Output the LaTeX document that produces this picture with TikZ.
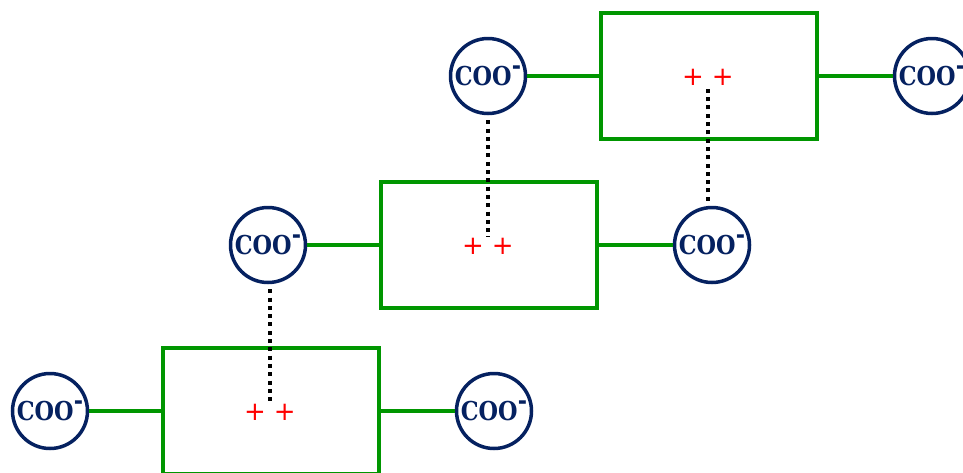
\documentclass[tikz,border=0pt]{standalone}
\usepackage{graphicx}
\usepackage{fontspec}
\setmainfont{Liberation Serif}
\newfontfamily\coofont{DejaVu Serif}
\newfontfamily\plusfont{DejaVu Sans}
\definecolor{boxgreen}{RGB}{0,150,0}
\definecolor{ionblue}{RGB}{5,33,96}
\begin{document}
\begin{tikzpicture}[x=1pt,y=-1pt,
 box/.style={draw=boxgreen, line width=4pt, minimum width=216pt, minimum height=126pt, inner sep=0},
 ion/.style={circle, draw=ionblue, line width=3.5pt, minimum size=75pt, inner sep=0, text=ionblue, font=\coofont\bfseries\fontsize{26}{26}\selectfont},
 bond/.style={draw=boxgreen, line width=4pt},
 ionic/.style={draw=black, line width=4pt, dash pattern=on 4pt off 4.3pt},
 charge/.style={text=red, font=\plusfont\fontsize{26}{26}\selectfont, inner sep=1pt}]
\useasboundingbox (0,0) rectangle (963,472);
% boxes
\node[box] (tb) at (709,76) {};
\node[box] (mb) at (489,245) {};
\node[box] (bb) at (271,411) {};
% charges
\newcommand{\pp}{+\hspace{8pt}+}
\node[charge] (tp) at (708,77) {\pp};
\node[charge] (mp) at (488,246) {\pp};
\node[charge] (bp) at (270,412) {\pp};
% ions
\newcommand{\coo}{\scalebox{0.86}[1]{COO\hspace{0.5pt}\raisebox{11.5pt}{-}}}
\node[ion] (t1) at (488,76) {\coo};
\node[ion] (t2) at (932,76) {\coo};
\node[ion] (m1) at (268,245) {\coo};
\node[ion] (m2) at (712,245) {\coo};
\node[ion] (b1) at (50,411) {\coo};
\node[ion] (b2) at (494,411) {\coo};
% bonds
\draw[bond] (t1.east) -- (tb.west);
\draw[bond] (tb.east) -- (t2.west);
\draw[bond] (m1.east) -- (mb.west);
\draw[bond] (mb.east) -- (m2.west);
\draw[bond] (b1.east) -- (bb.west);
\draw[bond] (bb.east) -- (b2.west);
% ionic interactions
\draw[ionic, shorten <=5pt] (t1.south -| mp) -- (mp.north);
\draw[ionic, shorten <=5pt] (m2.north -| tp) -- (tp.south);
\draw[ionic, shorten <=5pt] (m1.south -| bp) -- (bp.north);
\end{tikzpicture}
\end{document}
